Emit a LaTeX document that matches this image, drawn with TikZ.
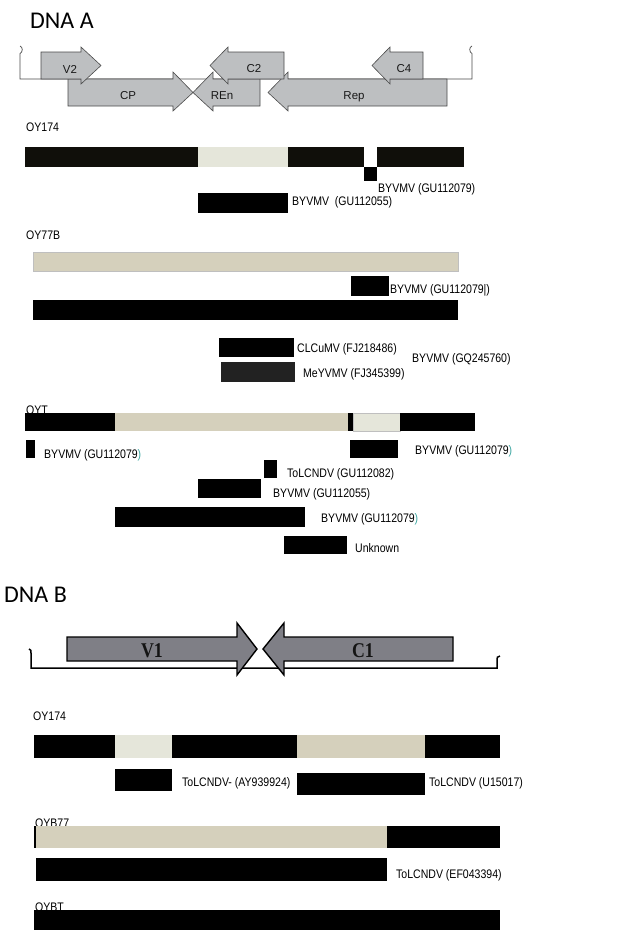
\documentclass[tikz,border=0pt]{standalone}
\usepackage{fontspec}
\setmainfont{Liberation Sans}
\newfontfamily\lab{Liberation Sans}[FakeStretch=0.85]
\newfontfamily\hdr{Carlito}
\newfontfamily\gsr{Liberation Serif}[FakeStretch=0.85]
\definecolor{lightseg}{HTML}{E5E6DA}
\definecolor{tanseg}{HTML}{D5D0BC}
\definecolor{geneA}{HTML}{BDBFC1}
\definecolor{geneEdge}{HTML}{4A4A4A}
\definecolor{geneB}{HTML}{7F7F86}
\definecolor{darkblk}{HTML}{100F0A}
\definecolor{dimblk}{HTML}{222222}
\definecolor{tealp}{HTML}{3AA5A0}
\begin{document}
\begin{tikzpicture}[x=1pt,y=-1pt,
  lbl/.style={anchor=base west, inner sep=0pt, font=\lab\fontsize{12.4}{14}\selectfont},
  glbl/.style={anchor=base, inner sep=0pt, text=black!90, font=\fontsize{11.5}{13}\selectfont},
  blbl/.style={anchor=base, inner sep=0pt, text=black!92, font=\gsr\bfseries\fontsize{21}{24}\selectfont},
  title/.style={anchor=west, inner sep=0pt, font=\hdr\fontsize{24}{28}\selectfont},
  blk/.style={fill=black},
  lt/.style={fill=lightseg},
  tan/.style={fill=tanseg},
  geneAstyle/.style={fill=geneA, draw=geneEdge, line width=0.6pt, line join=miter},
  geneBstyle/.style={fill=geneB, draw=black, line width=1.4pt, line join=miter},
  mapline/.style={draw=geneEdge, line width=0.7pt},
  mapBline/.style={draw=black, line width=1.5pt}
]
\useasboundingbox (0,0) rectangle (624,930);

% ---------------- DNA A ----------------
\node[title] (dnaA) at (30,21) {DNA A};
\draw[mapline] (20,46) .. controls (23,47) and (23,52) .. (20,53.5) -- (20,79) -- (472,79) -- (472,53.5) .. controls (469,52) and (469,47) .. (472,46);
% lower row
\draw[geneAstyle] (68,79) -- (173,79) -- (173,72) -- (193,92.5) -- (173,111) -- (173,106) -- (68,106) -- cycle;
\draw[geneAstyle] (193,92.5) -- (213,72) -- (213,79) -- (260,79) -- (260,106) -- (213,106) -- (213,111) -- cycle;
\draw[geneAstyle] (268,92.5) -- (288,72) -- (288,79) -- (447,79) -- (447,106) -- (288,106) -- (288,111) -- cycle;
% upper row
\draw[geneAstyle] (41,52) -- (81,52) -- (81,47) -- (101,65.5) -- (81,84) -- (81,79) -- (41,79) -- cycle;
\draw[geneAstyle] (210,65.5) -- (228,47) -- (228,52) -- (284,52) -- (284,79) -- (228,79) -- (228,84) -- cycle;
\draw[geneAstyle] (372,65.5) -- (390,47) -- (390,52) -- (423,52) -- (423,79) -- (390,79) -- (390,84) -- cycle;
\node[glbl] (gV2) at (70,73) {V2};
\node[glbl] (gC2) at (254,72.5) {C2};
\node[glbl] (gC4) at (404,72.5) {C4};
\node[glbl] (gCP) at (128,99) {CP};
\node[glbl] (gREn) at (222,99) {REn};
\node[glbl] (gRep) at (354,99) {Rep};

% OY174
\node[lbl] (a1) at (26,131) {OY174};
\fill[darkblk] (25,147) rectangle (198,167);
\fill[lt] (198,147) rectangle (288,167);
\fill[darkblk] (288,147) rectangle (364,167);
\fill[darkblk] (377,147) rectangle (464,167);
\fill[blk] (364,167) rectangle (377,181);
\node[lbl] (a1l1) at (378,192) {BYVMV (GU112079)};
\fill[blk] (198,193) rectangle (288,213);
\node[lbl] (a1l2) at (292,205) {BYVMV~ (GU112055)};

% OY77B
\node[lbl] (a2) at (26,239.5) {OY77B};
\filldraw[tan, draw=black!25, line width=0.5pt] (33,252) rectangle (458,271);
\fill[blk] (351,276) rectangle (389,296);
\node[lbl] (a2l1) at (390,293) {BYVMV (GU112079|)};
\fill[blk] (33,300) rectangle (458,320);
\fill[blk] (219,338) rectangle (294,357);
\node[lbl] (a2l2) at (297,352) {CLCuMV (FJ218486)};
\fill[dimblk] (221,362) rectangle (295,382);
\node[lbl] (a2l3) at (303,377) {MeYVMV (FJ345399)};
\node[lbl] (a2l4) at (412,362) {BYVMV (GQ245760)};

% OYT
\node[lbl] (a3) at (26,414) {OYT};
\fill[blk] (25,413) rectangle (115,431);
\fill[tan] (115,413) rectangle (348,431);
\fill[blk] (348,413) rectangle (353,431);
\filldraw[lt, draw=black!25, line width=0.5pt] (353,413) rectangle (400,431);
\fill[blk] (400,413) rectangle (475,431);
\fill[blk] (26,440) rectangle (35,458);
\node[lbl] (a3l1) at (44,458) {BYVMV (GU112079\textcolor{tealp}{)}};
\fill[blk] (350,440) rectangle (398,458);
\node[lbl] (a3l2) at (415,454) {BYVMV (GU112079\textcolor{tealp}{)}};
\fill[blk] (264,460) rectangle (277,478);
\node[lbl] (a3l3) at (287,477) {ToLCNDV (GU112082)};
\fill[blk] (198,479) rectangle (261,498);
\node[lbl] (a3l4) at (273,497) {BYVMV (GU112055)};
\fill[blk] (115,507) rectangle (305,527);
\node[lbl] (a3l5) at (321,522) {BYVMV (GU112079\textcolor{tealp}{)}};
\fill[blk] (284,536) rectangle (347,554);
\node[lbl] (a3l6) at (355,552) {Unknown};

% ---------------- DNA B ----------------
\node[title] (dnaB) at (4,595) {DNA B};
\draw[mapBline] (29,649) .. controls (31,650) .. (31,653) -- (31,668) -- (497,668) -- (497,660) .. controls (497,657) .. (500,656);
\draw[geneBstyle] (67,637) -- (237,637) -- (237,623) -- (257,649) -- (237,675) -- (237,661) -- (67,661) -- cycle;
\draw[geneBstyle] (263,649) -- (284,623) -- (284,637) -- (453,637) -- (453,661) -- (284,661) -- (284,675) -- cycle;
\node[blbl] (gV1) at (152,657) {V1};
\node[blbl] (gC1) at (363,657) {C1};

% OY174 (B)
\node[lbl] (b1) at (33,720) {OY174};
\fill[blk] (34,735) rectangle (115,758);
\fill[lt] (115,735) rectangle (172,758);
\fill[blk] (172,735) rectangle (297,758);
\fill[tan] (297,735) rectangle (425,758);
\fill[blk] (425,735) rectangle (500,758);
\fill[blk] (115,769) rectangle (172,791);
\node[lbl] (b1l1) at (182,786) {ToLCNDV- (AY939924)};
\fill[blk] (297,773) rectangle (425,795);
\node[lbl] (b1l2) at (429,786) {ToLCNDV (U15017)};

% OYB77
\node[lbl] (b2) at (35,827) {OYB77};
\fill[tan] (34,826) rectangle (387,848);
\fill[blk] (34,826) rectangle (36,848);
\fill[blk] (387,826) rectangle (500,848);
\fill[blk] (36,858) rectangle (387,881);
\node[lbl] (b2l1) at (396,878) {ToLCNDV (EF043394)};

% OYBT
\node[lbl] (b3) at (35,911) {OYBT};
\fill[blk] (34,910) rectangle (500,930);
\end{tikzpicture}
\end{document}
